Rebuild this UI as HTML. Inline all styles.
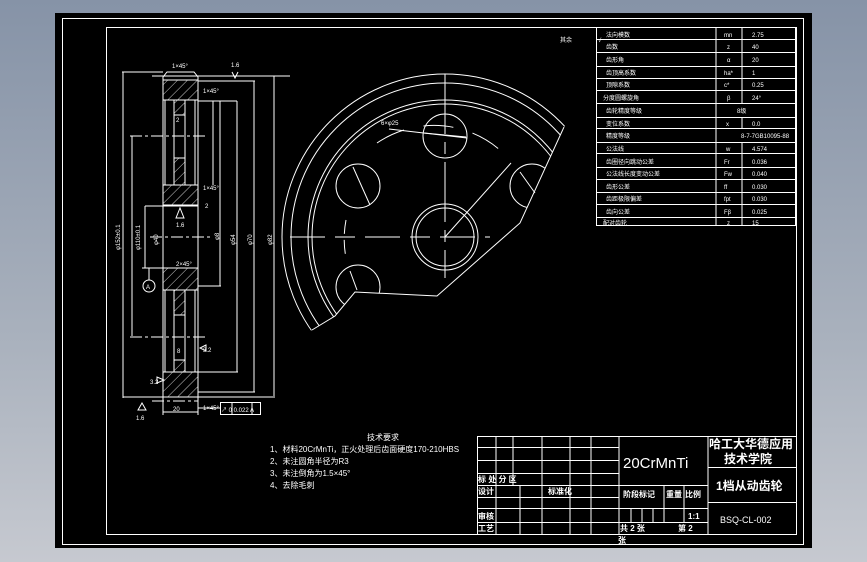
<!DOCTYPE html>
<html><head><meta charset="utf-8"><style>
html,body{margin:0;padding:0;width:867px;height:562px;overflow:hidden;background:linear-gradient(#8693a7,#a9b1bd 60%,#c6c9d0);}
svg{display:block}
text{font-family:"Liberation Sans","Noto Sans CJK SC",sans-serif;fill:#fff}
</style></head><body>
<svg width="867" height="562" viewBox="0 0 867 562" xmlns="http://www.w3.org/2000/svg">
<defs>
<pattern id="h" width="7" height="7" patternUnits="userSpaceOnUse" patternTransform="rotate(45)"><line x1="0" y1="0" x2="0" y2="7" stroke="#fff" stroke-width="0.8"/></pattern>
<clipPath id="cut"><polygon points="564,127 520,223 437,296 355,292 335,316 312,330 250,380 200,0 700,0 640,60"/></clipPath>
</defs>
<rect x="55" y="13" width="757" height="535" fill="#000"/>
<g fill="none" stroke="#fff" stroke-width="1">
<rect x="62.5" y="18.5" width="741" height="526"/>
<rect x="106.5" y="27.5" width="690" height="507"/>

<!-- side view hatches -->
<rect x="163" y="80" width="35" height="20" fill="url(#h)" stroke="none"/>
<rect x="174" y="100" width="11" height="15" fill="url(#h)" stroke="none"/>
<rect x="174" y="158" width="11" height="27" fill="url(#h)" stroke="none"/>
<rect x="163" y="185" width="35" height="20" fill="url(#h)" stroke="none"/>
<rect x="163" y="268" width="35" height="22" fill="url(#h)" stroke="none"/>
<rect x="174" y="290" width="11" height="25" fill="url(#h)" stroke="none"/>
<rect x="174" y="360" width="11" height="12" fill="url(#h)" stroke="none"/>
<rect x="163" y="372" width="35" height="25" fill="url(#h)" stroke="none"/>
<path d="M163 77 L167 72 L194 72 L198 77 L198 397 L163 397 Z"/>
<line x1="165" y1="100" x2="165" y2="185"/><line x1="195" y1="100" x2="195" y2="185"/>
<line x1="165" y1="290" x2="165" y2="372"/><line x1="195" y1="290" x2="195" y2="372"/>
<line x1="174" y1="100" x2="174" y2="185"/><line x1="185" y1="100" x2="185" y2="185"/>
<line x1="174" y1="290" x2="174" y2="372"/><line x1="185" y1="290" x2="185" y2="372"/>
<line x1="163" y1="80" x2="198" y2="80"/>
<line x1="163" y1="100" x2="198" y2="100"/><line x1="163" y1="185" x2="198" y2="185"/>
<line x1="163" y1="205" x2="198" y2="205"/><line x1="145" y1="206" x2="198" y2="206"/>
<line x1="145" y1="268" x2="198" y2="268"/><line x1="163" y1="290" x2="198" y2="290"/>
<line x1="163" y1="372" x2="198" y2="372"/>
<line x1="174" y1="115" x2="185" y2="115"/><line x1="174" y1="158" x2="185" y2="158"/>
<line x1="174" y1="315" x2="185" y2="315"/><line x1="174" y1="360" x2="185" y2="360"/>
<line x1="122" y1="72" x2="163" y2="72"/><line x1="152" y1="76" x2="290" y2="76"/>
<line x1="198" y1="81" x2="255" y2="81"/><line x1="198" y1="101" x2="237" y2="101"/>
<line x1="123" y1="72" x2="123" y2="398"/><line x1="132" y1="136" x2="132" y2="336"/>
<line x1="145" y1="206" x2="145" y2="268"/><line x1="213" y1="101" x2="213" y2="185"/>
<line x1="220" y1="101" x2="220" y2="286"/><line x1="237" y1="101" x2="237" y2="372"/>
<line x1="254" y1="81" x2="254" y2="392"/><line x1="274" y1="76" x2="274" y2="396"/>
<line x1="198" y1="286" x2="221" y2="286"/><line x1="198" y1="372" x2="238" y2="372"/>
<line x1="198" y1="392" x2="255" y2="392"/><line x1="123" y1="397" x2="275" y2="397"/>
<line x1="130" y1="136" x2="208" y2="136" stroke-dasharray="12 3 3 3"/>
<line x1="150" y1="237" x2="210" y2="237" stroke-dasharray="12 3 3 3"/>
<line x1="130" y1="337" x2="208" y2="337" stroke-dasharray="12 3 3 3"/>
<line x1="152" y1="401" x2="198" y2="401" stroke-dasharray="12 3 3 3"/>
<line x1="163" y1="397" x2="163" y2="415"/><line x1="198" y1="397" x2="198" y2="415"/>
<line x1="163" y1="412" x2="198" y2="412"/>
<line x1="198" y1="408" x2="220" y2="408"/>
<rect x="220.5" y="402.5" width="40" height="12"/><line x1="232" y1="402" x2="232" y2="415"/><line x1="252" y1="402" x2="252" y2="415"/>
<circle cx="149" cy="286" r="6"/><line x1="149" y1="268" x2="149" y2="280"/><line x1="142" y1="268" x2="156" y2="268"/>
<path d="M138 410 L142 403 L146 410 Z"/><path d="M176 218 L180 208 L184 218 Z"/>
<path d="M157 383 L164 380 L157 377 Z"/><path d="M206 345 L200 348 L206 351 Z"/>
<path d="M232 72 L235 78 L238 72"/>

<!-- gear view -->
<g clip-path="url(#cut)">
<circle cx="445" cy="237" r="163"/>
<circle cx="445" cy="237" r="154"/>
<circle cx="445" cy="237" r="137"/>
<circle cx="445" cy="237" r="133"/>
<circle cx="445" cy="136" r="22"/><circle cx="358" cy="186" r="22"/>
<circle cx="532" cy="186" r="22"/><circle cx="358" cy="287" r="22"/>
</g>
<path d="M564 127 L520 223 L437 296 L355 292 L335 316 L312 330"/>
<circle cx="445" cy="237" r="33"/><circle cx="445" cy="237" r="29"/>
<path d="M377 143 A101 101 0 0 1 510 160" stroke-dasharray="30 20"/>
<path d="M346 220 A101 101 0 0 0 346 258" stroke-dasharray="14 6"/>
<line x1="290" y1="237" x2="490" y2="237" stroke-dasharray="35 10 20 10"/>
<line x1="445" y1="74" x2="445" y2="278" stroke-dasharray="60 8 12 8"/>
<line x1="445" y1="237" x2="511" y2="163"/>
<line x1="389" y1="129" x2="467" y2="138"/>
<line x1="424" y1="133" x2="466" y2="137"/>
<line x1="353" y1="167" x2="370" y2="205"/><line x1="520" y1="172" x2="535" y2="193"/><line x1="350" y1="271" x2="357" y2="290"/>

<!-- parameter table -->
<rect x="596.5" y="27.5" width="199" height="198"/>
<line x1="716" y1="27" x2="716" y2="226"/>
<line x1="742" y1="27" x2="742" y2="103"/><line x1="742" y1="117" x2="742" y2="128"/><line x1="742" y1="142" x2="742" y2="226"/>
<g stroke-width="0.9">
<line x1="596" y1="39.5" x2="796" y2="39.5"/><line x1="596" y1="52.5" x2="796" y2="52.5"/><line x1="596" y1="66.5" x2="796" y2="66.5"/>
<line x1="596" y1="78.5" x2="796" y2="78.5"/><line x1="596" y1="90.5" x2="796" y2="90.5"/><line x1="596" y1="103.5" x2="796" y2="103.5"/>
<line x1="596" y1="117.5" x2="796" y2="117.5"/><line x1="596" y1="128.5" x2="796" y2="128.5"/><line x1="596" y1="142.5" x2="796" y2="142.5"/>
<line x1="596" y1="153.5" x2="796" y2="153.5"/><line x1="596" y1="167.5" x2="796" y2="167.5"/><line x1="596" y1="179.5" x2="796" y2="179.5"/>
<line x1="596" y1="192.5" x2="796" y2="192.5"/><line x1="596" y1="204.5" x2="796" y2="204.5"/><line x1="596" y1="217.5" x2="796" y2="217.5"/>
</g>

<!-- title block -->
<rect x="477.5" y="436.5" width="319" height="98"/>
<line x1="619" y1="436" x2="619" y2="535"/><line x1="708" y1="436" x2="708" y2="535"/>
<line x1="477" y1="447.5" x2="619" y2="447.5"/><line x1="477" y1="460.5" x2="619" y2="460.5"/>
<line x1="477" y1="473.5" x2="619" y2="473.5"/><line x1="477" y1="485.5" x2="708" y2="485.5"/>
<line x1="477" y1="497.5" x2="619" y2="497.5"/><line x1="477" y1="508.5" x2="708" y2="508.5"/>
<line x1="477" y1="522.5" x2="708" y2="522.5"/>
<line x1="708" y1="467.5" x2="797" y2="467.5"/><line x1="708" y1="502.5" x2="797" y2="502.5"/>
<line x1="496" y1="436" x2="496" y2="535"/><line x1="513" y1="436" x2="513" y2="485"/>
<line x1="542" y1="436" x2="542" y2="535"/><line x1="570" y1="436" x2="570" y2="535"/><line x1="591" y1="436" x2="591" y2="535"/>
<line x1="520" y1="485" x2="520" y2="535"/>
<line x1="664" y1="485" x2="664" y2="522"/><line x1="684" y1="485" x2="684" y2="522"/>
<line x1="631" y1="508" x2="631" y2="522"/><line x1="642" y1="508" x2="642" y2="522"/><line x1="653" y1="508" x2="653" y2="522"/>
</g>

<g font-size="6">
<text x="172" y="68">1×45°</text><text x="231" y="67">1.6</text>
<text x="203" y="93">1×45°</text><text x="203" y="190">1×45°</text><text x="203" y="410" >1×45°</text>
<text x="176" y="122">2</text><text x="205" y="208">2</text><text x="176" y="266">2×45°</text>
<text x="177" y="353">8</text><text x="173" y="411">20</text>
<text x="221" y="412">↗ 0 0.022 A</text><text x="146" y="289">A</text>
<text x="150" y="384">3.2</text><text x="203" y="352">3.2</text><text x="176" y="227">1.6</text><text x="136" y="420">1.6</text>
<text x="381" y="125">6×φ25</text>
<text transform="translate(120,250) rotate(-90)">φ152±0.1</text>
<text transform="translate(140,250) rotate(-90)">φ110±0.1</text>
<text transform="translate(158,245) rotate(-90)">φ40</text>
<text transform="translate(219,240) rotate(-90)">φ8</text>
<text transform="translate(235,245) rotate(-90)">φ54</text>
<text transform="translate(252,245) rotate(-90)">φ70</text>
<text transform="translate(272,245) rotate(-90)">φ82</text>
<text x="560" y="42">其余</text><text x="598" y="42">√</text>
</g>
<g font-size="6">
<text x="606" y="37">法向模数</text><text x="724" y="37">mn</text><text x="752" y="37">2.75</text>
<text x="606" y="49">齿数</text><text x="727" y="49">z</text><text x="752" y="49">40</text>
<text x="606" y="62">齿形角</text><text x="727" y="62">α</text><text x="752" y="62">20</text>
<text x="606" y="75">齿顶高系数</text><text x="724" y="75">ha*</text><text x="752" y="75">1</text>
<text x="606" y="87">顶隙系数</text><text x="724" y="87">c*</text><text x="752" y="87">0.25</text>
<text x="603" y="100">分度圆螺旋角</text><text x="727" y="100">β</text><text x="752" y="100">24°</text>
<text x="606" y="113">齿轮精度等级</text><text x="737" y="113">8级</text>
<text x="606" y="126">变位系数</text><text x="726" y="126">x</text><text x="752" y="126">0.0</text>
<text x="606" y="138">精度等级</text><text x="741" y="138">8-7-7GB10095-88</text>
<text x="606" y="151">公法线</text><text x="726" y="151">w</text><text x="752" y="151">4.574</text>
<text x="606" y="164">齿圈径向跳动公差</text><text x="724" y="164">Fr</text><text x="752" y="164">0.036</text>
<text x="606" y="176">公法线长度变动公差</text><text x="724" y="176">Fw</text><text x="752" y="176">0.040</text>
<text x="606" y="189">齿形公差</text><text x="724" y="189">ff</text><text x="752" y="189">0.030</text>
<text x="606" y="201">齿距极限偏差</text><text x="724" y="201">fpt</text><text x="752" y="201">0.030</text>
<text x="606" y="214">齿向公差</text><text x="724" y="214">Fβ</text><text x="752" y="214">0.025</text>
<text x="603" y="225">配对齿轮</text><text x="727" y="225">z</text><text x="752" y="225">15</text>
</g>
<g font-size="8">
<text x="367" y="440">技术要求</text>
<text x="270" y="452">1、材料20CrMnTi，正火处理后齿面硬度170-210HBS</text>
<text x="270" y="464">2、未注圆角半径为R3</text>
<text x="270" y="476">3、未注倒角为1.5×45°</text>
<text x="270" y="488">4、去除毛刺</text>
</g>
<g font-size="8" font-weight="bold">
<text x="478" y="482">标 处 分 区</text>
<text x="478" y="494">设计</text><text x="548" y="494">标准化</text>
<text x="478" y="519">审核</text><text x="478" y="531">工艺</text>
<text x="623" y="497">阶段标记</text><text x="666" y="497">重量</text><text x="685" y="497">比例</text>
<text x="688" y="519">1:1</text>
<text x="620" y="531">共 2 张</text><text x="678" y="531">第 2</text>
<text x="618" y="543">张</text>
</g>
<text x="623" y="468" font-size="15" font-family="Liberation Serif,serif">20CrMnTi</text>
<text x="709" y="448" font-size="12" font-weight="bold">哈工大华德应用</text>
<text x="724" y="463" font-size="12" font-weight="bold">技术学院</text>
<text x="716" y="490" font-size="12" font-weight="bold">1档从动齿轮</text>
<text x="720" y="523" font-size="9" font-family="Liberation Mono,monospace">BSQ-CL-002</text>
</svg>
</body></html>
